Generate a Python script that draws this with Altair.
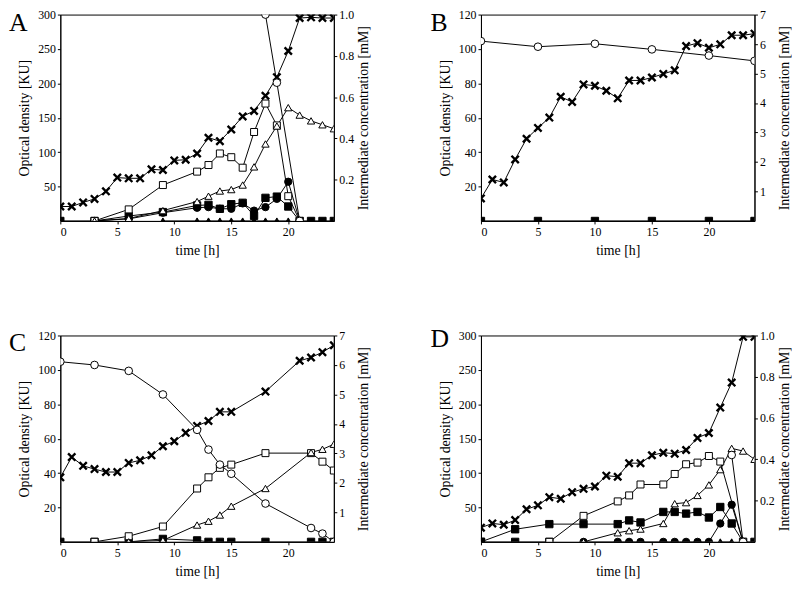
import altair as alt
import pandas as pd

FONT = "Liberation Serif"

# ---------------- Panel A ----------------
a_od_t = list(range(0, 25))
a_od = [21, 21, 27, 32, 43, 63, 62, 62, 75, 74, 88, 89, 98, 121, 116, 133, 152, 160, 182, 209, 247, 295, 296, 295, 295]
a_osq_t = [3, 6, 9, 12, 13, 14, 15, 16, 17, 18, 19, 20, 21]
a_osq = [0, 0.056, 0.174, 0.239, 0.271, 0.327, 0.309, 0.258, 0.431, 0.569, 0.463, 0.12, 0]
a_otri_t = [3, 6, 9, 12, 13, 14, 15, 16, 17, 18, 19, 20, 21, 22, 23, 24]
a_otri = [0, 0.012, 0.05, 0.094, 0.12, 0.145, 0.152, 0.174, 0.262, 0.373, 0.46, 0.549, 0.513, 0.485, 0.466, 0.447]
a_ocirc_t = [18, 19, 21]
a_ocirc = [1.0, 0.67, 0]
a_fsq_t = [0, 3, 6, 9, 12, 13, 14, 15, 16, 17, 18, 19, 20, 21, 22, 23, 24]
a_fsq = [0, 0, 0.024, 0.043, 0.075, 0.078, 0.059, 0.081, 0.088, 0.025, 0.112, 0.118, 0.07, 0, 0, 0, 0]
a_fcirc_t = [3, 6, 9, 12, 13, 14, 15, 16, 17, 18, 19, 20, 21]
a_fcirc = [0, 0.01, 0.04, 0.064, 0.067, 0.059, 0.059, 0.085, 0.05, 0.067, 0.107, 0.19, 0]
a_ftri_t = [9, 12, 13, 14, 15, 16, 17, 18, 19, 20]
a_ftri = [0, 0, 0, 0, 0, 0, 0, 0, 0, 0]

# ---------------- Panel B ----------------
b_od_t = list(range(0, 25))
b_od = [13.1, 24.1, 22.4, 35.8, 47.8, 54.1, 60.1, 72.2, 69.2, 79.4, 78.6, 75.7, 71.3, 81.7, 81.7, 83.4,
        85.5, 87.6, 101.7, 103.4, 100.7, 102.7, 108, 108, 108.9]
b_ocirc_t = [0, 5, 10, 15, 20, 24]
b_ocirc = [6.10, 5.91, 6.01, 5.82, 5.61, 5.43]
b_fsq_t = [0, 5, 10, 15, 20, 24]
b_fsq = [0, 0, 0, 0, 0, 0]

# ---------------- Panel C ----------------
c_od_t = [0, 1, 2, 3, 4, 5, 6, 7, 8, 9, 10, 11, 12, 13, 14, 15, 18, 21, 22, 23, 24]
c_od = [37.5, 49.3, 44.2, 42.3, 40.6, 40.6, 45.9, 47.4, 50.3, 55.6, 58.5, 63.4, 67.4, 70.3, 75.6, 75.6,
        87.4, 105.3, 107.2, 110.3, 114.3]
c_ocirc_t = [0, 3, 6, 9, 12, 13, 14, 15, 18, 22, 23, 24]
c_ocirc = [6.11, 6.0, 5.8, 5.0, 3.8, 3.13, 2.62, 2.31, 1.3, 0.47, 0.28, 0]
c_osq_t = [3, 6, 9, 12, 13, 14, 15, 18, 22, 23, 24]
c_osq = [0, 0.19, 0.52, 1.81, 2.19, 2.51, 2.62, 3.01, 3.01, 2.72, 2.42]
c_otri_t = [6, 9, 12, 13, 14, 15, 18, 22, 23, 24]
c_otri = [0, 0.05, 0.57, 0.70, 0.91, 1.21, 1.81, 3.03, 3.14, 3.31]
c_fsq_t = [0, 3, 6, 9, 12, 13, 14, 15, 18, 22, 23, 24]
c_fsq = [0, 0, 0, 0.1, 0.05, 0, 0, 0, 0, 0, 0, 0]

# ---------------- Panel D ----------------
d_od_t = list(range(0, 25))
d_od = [20.6, 26.8, 24.9, 31.6, 47.4, 53.1, 65, 62.7, 72.2, 77.1, 80.4, 96.2, 94.7, 114.4, 114.4, 125.9,
        129.6, 128.2, 133.5, 151.1, 158.3, 195.2, 231.5, 298, 298]
d_osq_t = [6, 9, 12, 13, 14, 16, 17, 18, 19, 20, 21, 23]
d_osq = [0, 0.126, 0.196, 0.225, 0.278, 0.278, 0.329, 0.376, 0.384, 0.416, 0.389, 0]
d_otri_t = [9, 12, 13, 14, 16, 17, 18, 19, 20, 21, 22, 23, 24]
d_otri = [0, 0.044, 0.054, 0.062, 0.089, 0.185, 0.19, 0.225, 0.276, 0.35, 0.453, 0.44, 0.40]
d_ocirc_t = [22, 23]
d_ocirc = [0.421, 0]
d_fsq_t = [0, 3, 6, 9, 12, 13, 14, 16, 17, 18, 19, 20, 21, 22, 23, 24]
d_fsq = [0, 0.061, 0.086, 0.086, 0.086, 0.104, 0.094, 0.145, 0.145, 0.137, 0.145, 0.118, 0.169, 0.089, 0, 0]
d_fsq0_t = [0, 3, 6]
d_fsq0 = [0, 0, 0]
d_fcirc_t = [9, 12, 13, 14, 16, 17, 18, 19, 20, 21, 22, 23]
d_fcirc = [0, 0, 0, 0, 0, 0, 0, 0, 0, 0.089, 0.18, 0]
d_ftri_t = [21, 22]
d_ftri = [0, 0]

STYLES = {
    "osq": ("square", "white", 50),
    "otri": ("triangle-up", "white", 55),
    "ocirc": ("circle", "white", 60),
    "fsq": ("square", "black", 55),
    "fcirc": ("circle", "black", 55),
    "ftri": ("triangle-up", "black", 50),
}
XSHAPE = "M-1,-1L1,1M1,-1L-1,1"

XSCALE = alt.Scale(domain=[0, 24], nice=False, zero=False)
XAXIS = alt.Axis(values=[0, 5, 10, 15, 20], title="time [h]", tickSize=3, labelPadding=3,
                 titlePadding=6, format="d")


def panel(letter, od_t, od_v, od_dom, od_ticks, series, r_dom, r_ticks, r_fmt, lx, ly):
    od_df = pd.DataFrame({"t": od_t, "v": od_v})
    yl = alt.Y("v:Q", scale=alt.Scale(domain=od_dom, nice=False),
               axis=alt.Axis(orient="left", values=od_ticks, title="Optical density [KU]",
                             tickSize=3, labelPadding=2, titlePadding=5, format="d",
                             minExtent=24, maxExtent=24))
    xe = alt.X("t:Q", scale=XSCALE, axis=XAXIS)
    od_line = alt.Chart(od_df).mark_line(color="black", strokeWidth=1, clip=True).encode(x=xe, y=yl)
    od_pts = alt.Chart(od_df).mark_point(shape=XSHAPE, filled=False, stroke="black", strokeWidth=2.4,
                                         size=55, opacity=1, clip=True).encode(x=xe, y=yl)
    left = alt.layer(od_line, od_pts)

    df = pd.DataFrame([{"t": t, "v": v, "s": k} for k, ts, vs in series for t, v in zip(ts, vs)])
    df["style"] = df["s"].str.replace("0", "", regex=False)
    yr = alt.Y("v:Q", scale=alt.Scale(domain=r_dom, nice=False),
               axis=alt.Axis(orient="right", values=r_ticks, title="Intermediate concentration [mM]",
                             tickSize=3, labelPadding=2, titlePadding=3, format=r_fmt, titleAngle=-90,
                             titleBaseline="top", minExtent=20, maxExtent=20))
    lines = alt.Chart(df).mark_line(color="black", strokeWidth=1, clip=True).encode(
        x=xe, y=yr, detail="s:N")
    layers = [lines]
    for st in ["fsq", "fcirc", "ftri", "osq", "otri", "ocirc"]:
        if (df["style"] == st).any():
            shape, fill, size = STYLES[st]
            layers.append(
                alt.Chart(df).transform_filter(alt.datum.style == st).mark_point(
                    shape=shape, filled=True, fill=fill, stroke="black", strokeWidth=1,
                    size=size, opacity=1, clip=True).encode(x=xe, y=yr))
    right = alt.layer(*layers)

    lab = alt.Chart(pd.DataFrame({"lab": [letter]})).mark_text(
        font=FONT, fontSize=26, align="left", baseline="top", color="black").encode(
        text="lab:N", x=alt.value(lx), y=alt.value(ly))

    return alt.layer(left, right, lab).resolve_scale(y="independent").properties(width=277, height=209)


A = panel("A", a_od_t, a_od, [0, 300], [50, 100, 150, 200, 250, 300],
          [("osq", a_osq_t, a_osq), ("otri", a_otri_t, a_otri), ("ocirc", a_ocirc_t, a_ocirc),
           ("fsq", a_fsq_t, a_fsq), ("fcirc", a_fcirc_t, a_fcirc), ("ftri", a_ftri_t, a_ftri)],
          [0, 1], [0.2, 0.4, 0.6, 0.8, 1.0], ".1f", -52, -4)
B = panel("B", b_od_t, b_od, [0, 120], [20, 40, 60, 80, 100, 120],
          [("ocirc", b_ocirc_t, b_ocirc), ("fsq", b_fsq_t, b_fsq)],
          [0, 7], [1, 2, 3, 4, 5, 6, 7], "d", -51, -4)
C = panel("C", c_od_t, c_od, [0, 120], [20, 40, 60, 80, 100, 120],
          [("ocirc", c_ocirc_t, c_ocirc), ("osq", c_osq_t, c_osq), ("otri", c_otri_t, c_otri),
           ("fsq", c_fsq_t, c_fsq)],
          [0, 7], [1, 2, 3, 4, 5, 6, 7], "d", -52, -5)
D = panel("D", d_od_t, d_od, [0, 300], [50, 100, 150, 200, 250, 300],
          [("osq", d_osq_t, d_osq), ("otri", d_otri_t, d_otri), ("ocirc", d_ocirc_t, d_ocirc),
           ("fsq", d_fsq_t, d_fsq), ("fsq0", d_fsq0_t, d_fsq0), ("fcirc", d_fcirc_t, d_fcirc),
           ("ftri", d_ftri_t, d_ftri)],
          [0, 1], [0.2, 0.4, 0.6, 0.8, 1.0], ".1f", -51, -9)

chart = alt.vconcat(
    alt.hconcat(A, B, spacing=59),
    alt.hconcat(C, D, spacing=59),
    spacing=68,
).properties(padding={"top": -4, "left": 0, "right": 0, "bottom": 0}).configure_view(
    stroke="black", strokeWidth=1).configure_axis(
    grid=False, domainColor="black", tickColor="black", labelColor="black", titleColor="black",
    labelFont=FONT, titleFont=FONT, labelFontSize=12, titleFontSize=14, titleFontWeight="normal",
    domainWidth=1,
)

chart.save("out.html", embed_options={"renderer": "svg", "actions": False})
